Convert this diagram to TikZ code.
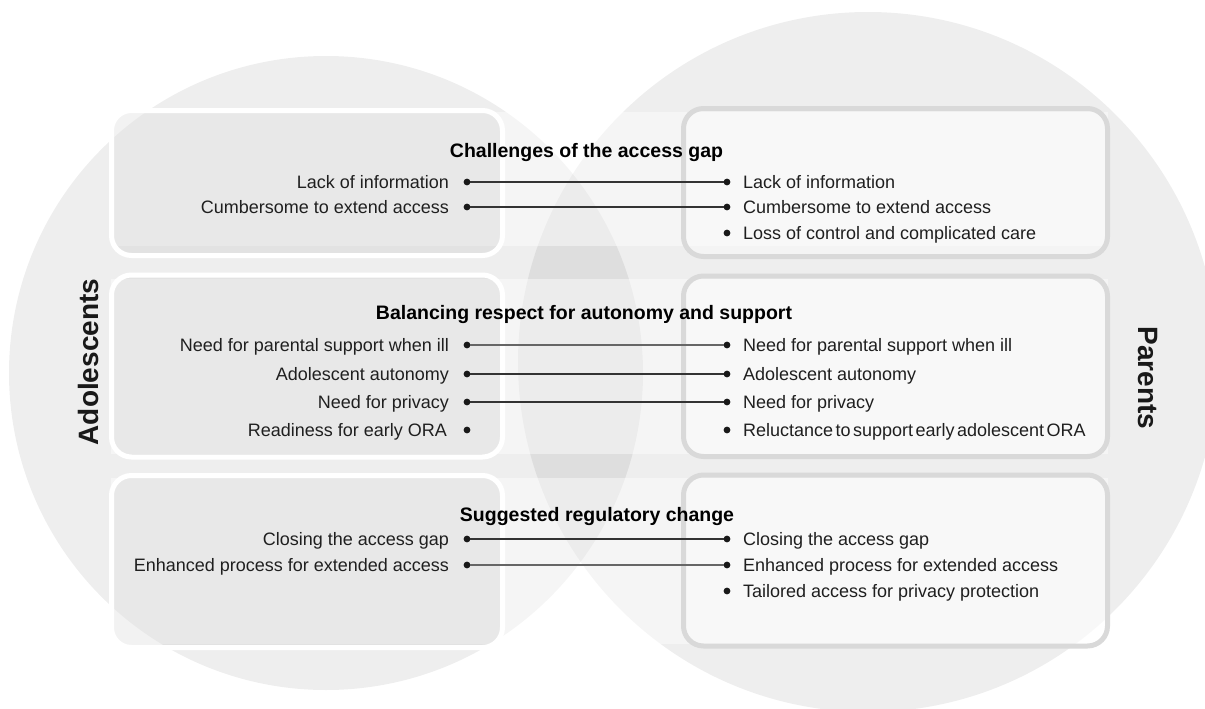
\documentclass[tikz,border=0pt]{standalone}
\usepackage{fontspec}
\setmainfont{Liberation Sans}
\begin{document}
\begin{tikzpicture}[x=1pt,y=-1pt,
  every node/.style={inner sep=0pt, outer sep=0pt},
  item/.style={font=\fontsize{18}{20}\selectfont, text=black!88},
  itemL/.style={item, anchor=base east},
  itemR/.style={item, anchor=base west},
  heading/.style={font=\bfseries\fontsize{19.5}{22}\selectfont, anchor=base, text=black},
  side/.style={font=\bfseries\fontsize{28}{30}\selectfont, text=black!90},
  bullet/.style={circle, fill=black!90, minimum size=6.8pt},
  link/.style={draw=black!80, line width=1.1pt},
  linkgrey/.style={draw=black!60, line width=2pt},
  band/.style={fill=white, fill opacity=0.42},
  leftbox/.style={fill=black, fill opacity=0.05, draw=white, draw opacity=1, line width=5pt, rounded corners=20pt},
  rightbox/.style={fill=white, fill opacity=0.35, draw=black!15, draw opacity=1, line width=5pt, rounded corners=20pt},
]
\useasboundingbox (0,0) rectangle (1205,709);
\clip (0,0) rectangle (1205,709);

% the two overlapping groups
\fill[black, opacity=0.065] (326,373) circle[radius=317pt];
\fill[black, opacity=0.065] (868,362) circle[radius=350pt];

% light bands joining each pair of boxes
\fill[band] (111,112) rectangle (1108,246);
\fill[band] (111,279) rectangle (1108,454);
\fill[band] (111,478) rectangle (1108,644);

% adolescent boxes
\draw[leftbox] (111.5,110.5) rectangle (502.5,255.5);
\draw[leftbox] (111.5,275) rectangle (502.5,457);
\draw[leftbox] (111.5,475.5) rectangle (502.5,647.5);

% parent boxes
\draw[rightbox] (683.5,108.5) rectangle (1107.5,256.5);
\draw[rightbox] (683.5,276) rectangle (1107.5,456.5);
\draw[rightbox] (683.5,475) rectangle (1107.5,646);

% side labels
\node[side, rotate=90] (adol) at (88,362) {Adolescents};
\node[side, rotate=-90] (par) at (1148,378) {Parents};

% ---- Challenges of the access gap ----
\node[heading] (h1) at (586.5,157) {Challenges of the access gap};
\node[bullet] (la1) at (467,182) {};
\node[bullet] (la2) at (467,207) {};
\node[bullet] (ra1) at (727,182) {};
\node[bullet] (ra2) at (727,207) {};
\node[bullet] (ra3) at (727,233) {};
\node[itemL] (lt1) at (449,188) {Lack of information};
\node[itemL] (lt2) at (449,213) {Cumbersome to extend access};
\node[itemR] (rt1) at (743,188) {Lack of information};
\node[itemR] (rt2) at (743,213) {Cumbersome to extend access};
\node[itemR] (rt3) at (743,239) {Loss of control and complicated care};
\draw[link] (la1) -- (ra1);
\draw[link] (la2) -- (ra2);

% ---- Balancing respect for autonomy and support ----
\node[heading] (h2) at (584,319) {Balancing respect for autonomy and support};
\node[bullet] (lb1) at (467,345) {};
\node[bullet] (lb2) at (467,374) {};
\node[bullet] (lb3) at (467,402) {};
\node[bullet] (lb4) at (467,430) {};
\node[bullet] (rb1) at (727,345) {};
\node[bullet] (rb2) at (727,374) {};
\node[bullet] (rb3) at (727,402) {};
\node[bullet] (rb4) at (727,430) {};
\node[itemL] (mt1) at (449,351) {Need for parental support when ill};
\node[itemL] (mt2) at (449,380) {Adolescent autonomy};
\node[itemL] (mt3) at (449,408) {Need for privacy};
\node[itemL] (mt4) at (447,436) {Readiness for early ORA};
\node[itemR] (nt1) at (743,351) {Need for parental support when ill};
\node[itemR] (nt2) at (743,380) {Adolescent autonomy};
\node[itemR] (nt3) at (743,408) {Need for privacy};
\node[itemR] (nt4) at (743,436) {\spaceskip=0.14em Reluctance to support early adolescent ORA};
\draw[linkgrey] (lb1) -- (rb1);
\draw[link] (lb2) -- (rb2);
\draw[link] (lb3) -- (rb3);

% ---- Suggested regulatory change ----
\node[heading] (h3) at (597,521) {Suggested regulatory change};
\node[bullet] (lc1) at (467,539) {};
\node[bullet] (lc2) at (467,565) {};
\node[bullet] (rc1) at (727,539) {};
\node[bullet] (rc2) at (727,565) {};
\node[bullet] (rc3) at (727,591) {};
\node[itemL] (pt1) at (449,545) {Closing the access gap};
\node[itemL] (pt2) at (449,571) {Enhanced process for extended access};
\node[itemR] (qt1) at (743,545) {Closing the access gap};
\node[itemR] (qt2) at (743,571) {Enhanced process for extended access};
\node[itemR] (qt3) at (743,597) {Tailored access for privacy protection};
\draw[link] (lc1) -- (rc1);
\draw[linkgrey] (lc2) -- (rc2);
\end{tikzpicture}
\end{document}
